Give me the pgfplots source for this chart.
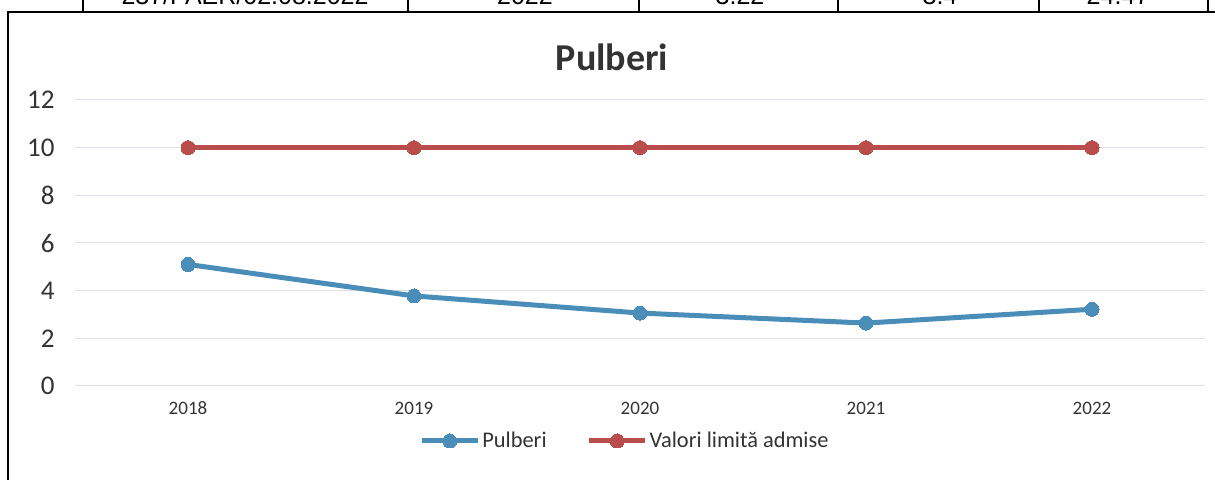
\documentclass[border=0pt]{standalone}
\usepackage{fontspec}
\setmainfont{Carlito}
\newfontfamily\arialfont{Liberation Sans}
\usepackage{pgfplots}
\pgfplotsset{compat=1.18}
\definecolor{blueS}{HTML}{4A8DB8}
\definecolor{redS}{HTML}{B84D4B}
\definecolor{gridc}{HTML}{DDE0EA}
\definecolor{txt}{HTML}{333333}
\begin{document}
\begin{tikzpicture}
\path[use as bounding box] (0pt,0pt) rectangle (607.5pt,240pt);
\clip (0pt,0pt) rectangle (607.5pt,240pt);
% table fragment above the chart
\draw[line width=1pt] (4pt,-5pt) -- (4pt,234pt) -- (610pt,234pt);
\foreach \xx in {41.5,204,319.5,419,519.5,604}{
  \draw[line width=0.9pt] (\xx pt,234pt) -- (\xx pt,242pt);
}
\begin{scope}[every node/.style={anchor=base, inner sep=0pt, font=\arialfont\fontsize{12.5}{14}\selectfont}]
\node at (122.5pt,237.5pt) {237/PAER/02.08.2022};
\node at (262.5pt,237.5pt) {2022};
\node at (370pt,237.5pt) {3.22};
\node at (470pt,237.5pt) {3.4};
\node at (559pt,237.5pt) {24.47};
\end{scope}
% title
\node[font=\bfseries\fontsize{19}{22}\selectfont, text=txt] at (306pt,211.5pt) {Pulberi};
\begin{axis}[
  at={(37.5pt,47pt)}, anchor=south west,
  scale only axis, width=565pt, height=143pt,
  xmin=-0.5, xmax=4.5, ymin=0, ymax=12,
  ytick={0,2,...,12},
  xtick={0,1,2,3,4},
  xticklabels={2018,2019,2020,2021,2022},
  axis line style={draw=none},
  major tick length=0pt,
  ymajorgrids,
  grid style={gridc, line width=0.5pt},
  /pgf/number format/assume math mode=true,
  yticklabel style={font=\fontsize{13.5}{15}\selectfont, text=txt, inner sep=0pt, anchor=east, xshift=-10pt},
  xticklabel style={font=\fontsize{9.5}{11}\selectfont, text=txt, inner sep=0pt, anchor=center, yshift=-11pt},
  legend style={at={(0.4867,-0.1923)}, anchor=center, draw=none, fill=none,
    font=\fontsize{11.2}{13}\selectfont, text=txt,
    /tikz/every even column/.append style={column sep=19pt},
    nodes={inner sep=1pt}},
  legend columns=2,
  legend cell align=left,
  legend image code/.code={\draw[mark repeat=2,mark phase=2,#1] plot coordinates {(0pt,0pt) (14pt,0pt) (28pt,0pt)};},
]
\addplot[blueS, line width=2.5pt, mark=*, mark size=3.5pt, mark options={solid, line width=0pt, fill=blueS}]
  coordinates {(0,5.10) (1,3.78) (2,3.06) (3,2.64) (4,3.22)};
\addlegendentry{Pulberi}
\addplot[redS, line width=2.5pt, mark=*, mark size=3.5pt, mark options={solid, line width=0pt, fill=redS}]
  coordinates {(0,10) (1,10) (2,10) (3,10) (4,10)};
\addlegendentry{Valori limită admise}
\end{axis}
\end{tikzpicture}
\end{document}
